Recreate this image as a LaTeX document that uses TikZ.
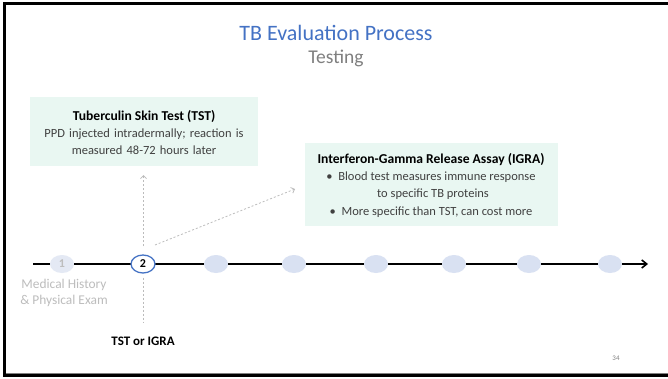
\documentclass[tikz,border=0pt]{standalone}
\usepackage{fontspec}
\setmainfont{Carlito}
\usetikzlibrary{arrows.meta,shapes.geometric}
\definecolor{titleblue}{HTML}{4472C4}
\definecolor{subgray}{HTML}{7F7F7F}
\definecolor{mint}{HTML}{E9F7F2}
\definecolor{stepfill}{HTML}{D9E1F2}
\definecolor{fadedfill}{HTML}{E4E9F4}
\definecolor{fadedtext}{HTML}{BDBDBD}
\definecolor{textgray}{HTML}{404040}
\definecolor{guide}{HTML}{BBBBBB}
\tikzset{
  stepdot/.style={ellipse, fill=stepfill, minimum width=24pt, minimum height=18pt, inner sep=0pt},
  guideline/.style={draw=guide, dash pattern=on 2pt off 2pt, line width=0.8pt},
  bodytext/.style={font=\fontsize{12.5}{17}\selectfont, text=textgray, align=center},
  headtext/.style={font=\fontsize{13.6}{17}\selectfont\bfseries, text=black},
}
\begin{document}
\begin{tikzpicture}[x=1pt, y=-1pt]
\useasboundingbox (0,0) rectangle (668,378);
\fill[white] (0,0) rectangle (668,378);
% slide frame
\draw[line width=3pt] (668,3.5) -- (4.5,3.5) -- (4.5,375.5) -- (668,375.5);
\draw[gray, line width=1pt] (6,373.5) -- (668,373.5);

% headings
\node[text=titleblue, font=\fontsize{22}{26}\selectfont] (title) at (336,33) {TB Evaluation Process};
\node[text=subgray, font=\fontsize{19.5}{22}\selectfont] (sub) at (336,58) {Testing};

% information panels
\fill[mint] (30,97) rectangle (258,166);
\node[headtext] (tsthead) at (144,116) {Tuberculin Skin Test (TST)};
\node[bodytext, text width=226pt] (tstbody) at (144,141.5) {PPD injected intradermally; reaction is\\measured 48-72 hours later};
\coordinate (tstfoot) at (143.5,175);

\fill[mint] (305,143) rectangle (558,226);
\node[headtext] (igrahead) at (431,160) {Interferon-Gamma Release Assay (IGRA)};
\node[bodytext] (igra1) at (431,177) {\textbullet\ \ Blood test measures immune response};
\node[bodytext] (igra2) at (433,194) {to specific TB proteins};
\node[bodytext] (igra3) at (431,212) {\textbullet\ \ More specific than TST, can cost more};
\coordinate (igrafoot) at (295,189);

% timeline
\coordinate (tstart) at (33,264);
\coordinate (tend) at (648,264);
\draw[line width=1.6pt, -{Straight Barb[length=5pt, width=8pt]}] (tstart) -- (tend);

\node[ellipse, fill=fadedfill, minimum width=24pt, minimum height=18pt, inner sep=0pt, text=fadedtext, font=\fontsize{12}{14}\selectfont\bfseries] (s1) at (62,264) {1};
\node[ellipse, fill=white, draw=titleblue, line width=1.3pt, minimum width=24pt, minimum height=18pt, inner sep=0pt, font=\fontsize{12}{14}\selectfont\bfseries] (s2) at (143,264) {2};
\node[stepdot] (s3) at (216,264) {};
\node[stepdot] (s4) at (294,264) {};
\node[stepdot] (s5) at (376,264) {};
\node[stepdot] (s6) at (454,264) {};
\node[stepdot] (s7) at (529,264) {};
\node[stepdot] (s8) at (610,264) {};

% labels under the steps
\node[text=fadedtext, align=center, font=\fontsize{13.4}{16}\selectfont] (s1lab) at (64,293) {Medical History\\\& Physical Exam};
\coordinate (s2drop) at (143,322);
\node[font=\fontsize{13}{16}\selectfont\bfseries] (s2lab) at (143,341) {TST or IGRA};

% dotted guides
\draw[guideline] (s2.south) ++(0,4) -- (s2drop);
\draw[guideline, -{Straight Barb[length=3pt, width=6pt]}] (143.5,246) -- (tstfoot);
\draw[guideline, -{Straight Barb[length=3pt, width=6pt]}] (155,245) -- (igrafoot);

% page number
\node[text=gray, font=\fontsize{7}{8}\selectfont] (pg) at (616,358) {34};
\end{tikzpicture}
\end{document}
